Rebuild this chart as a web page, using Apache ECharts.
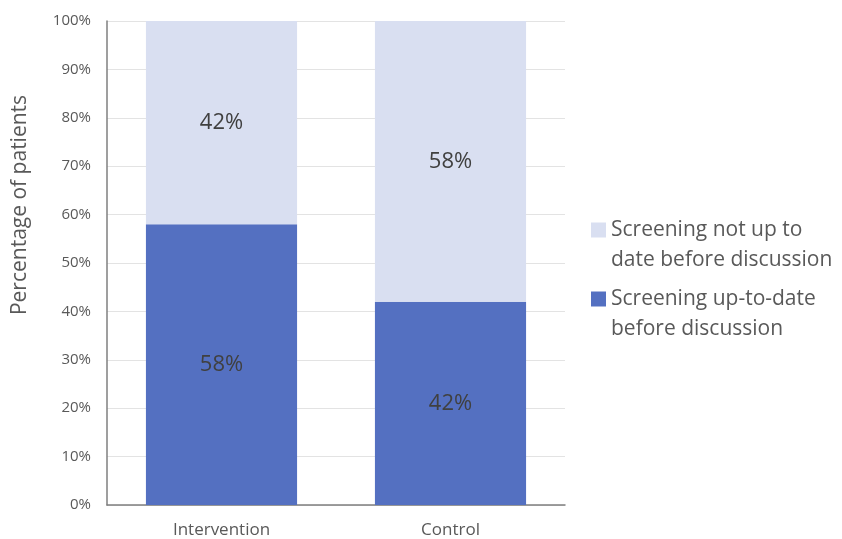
<!DOCTYPE html>
<html>
<head>
<meta charset="utf-8">
<script src="https://cdn.jsdelivr.net/npm/echarts@6/dist/echarts.min.js"></script>
<style>
	html, body { margin: 0; padding: 0; background: #fff; }
	#chart { width: 842px; height: 539px; }
</style>
</head>
<body>
<div id="chart"></div>
<script>
const categories = ['Intervention', 'Control']
const upToDate = [58, 42]
const notUpToDate = [42, 58]
const seriesNames = ['Screening up-to-date\nbefore discussion', 'Screening not up to\ndate before discussion']

const chartDom = echarts.init(document.getElementById('chart'))
const labelStyle = {
	show: true,
	position: 'inside',
	formatter: (p) => p.value + '%',
	fontSize: 22,
	color: '#404040',
	fontFamily: 'Open Sans'
}
const option = {
	animation: false,
	grid: { left: 107, right: 277, top: 21, bottom: 34 },
	legend: {
		orient: 'vertical',
		left: 586,
		top: 210,
		itemWidth: 15,
		itemHeight: 45,
		itemGap: 9,
		// square sits on the first text line, the empty move point stretches the box
		icon: 'path://M0,0L1,0L1,1L0,1ZM0,3',
		data: [seriesNames[1], seriesNames[0]],
		textStyle: { fontSize: 21, color: '#595959', lineHeight: 30, fontFamily: 'Open Sans' }
	},
	graphic: [{
		type: 'text',
		x: 20,
		y: 205,
		rotation: Math.PI / 2,
		style: {
			text: 'Percentage of patients',
			fontSize: 21,
			fill: '#595959',
			fontFamily: 'Open Sans',
			align: 'center',
			verticalAlign: 'middle'
		}
	}],
	xAxis: {
		type: 'category',
		data: categories,
		axisLine: { lineStyle: { color: '#7f7f7f', width: 1.5 } },
		axisTick: { show: false },
		axisLabel: { fontSize: 17, color: '#595959', margin: 17, fontFamily: 'Open Sans' }
	},
	yAxis: {
		type: 'value',
		min: 0,
		max: 100,
		interval: 10,
		axisLine: { show: true, lineStyle: { color: '#7f7f7f', width: 1.5 } },
		axisTick: { show: false },
		splitLine: { lineStyle: { color: '#e3e3e3' } },
		axisLabel: { formatter: '{value}%', fontSize: 15, color: '#595959', margin: 16, fontFamily: 'Open Sans' }
	},
	series: [{
		name: seriesNames[0],
		type: 'bar',
		stack: 'total',
		barWidth: '66%',
		itemStyle: { color: '#5470c1' },
		label: labelStyle,
		data: upToDate
	}, {
		name: seriesNames[1],
		type: 'bar',
		stack: 'total',
		itemStyle: { color: '#d9dff1' },
		label: labelStyle,
		data: notUpToDate
	}]
}
chartDom.setOption(option, true)
</script>
</body>
</html>
